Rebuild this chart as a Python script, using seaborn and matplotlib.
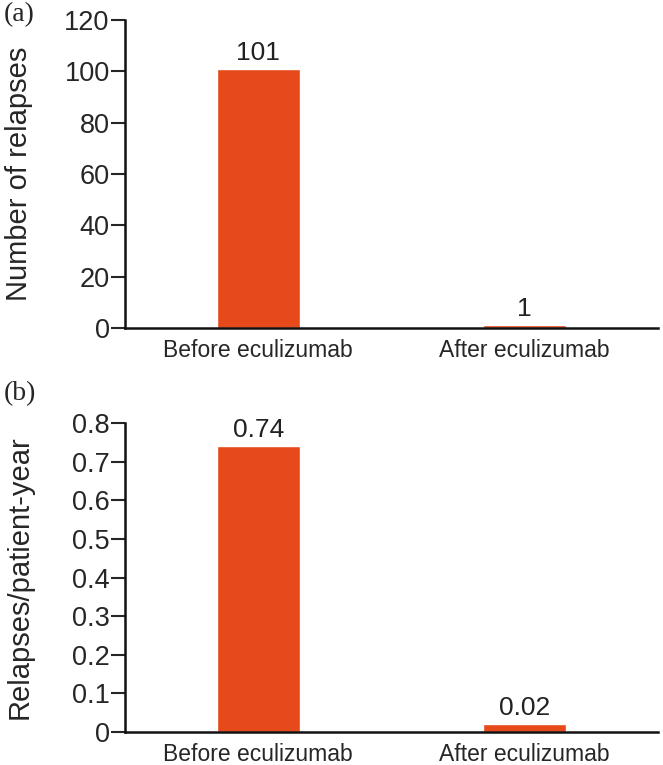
import matplotlib
matplotlib.use("Agg")
import matplotlib.pyplot as plt
import pandas as pd
import seaborn as sns

periods = ["Before eculizumab", "After eculizumab"]
relapse_counts = [101, 1]
relapse_rates = [0.74, 0.02]
count_labels = ["101", "1"]
rate_labels = ["0.74", "0.02"]

BAR_COLOR = "#E64A1B"

sns.set_theme(style="ticks")
plt.rcParams["font.family"] = ["Liberation Sans", "DejaVu Sans"]

fig = plt.figure(figsize=(6.63, 7.65), dpi=100)
ax_a = fig.add_axes([0.1885, 0.5712, 0.804, 0.4028])
ax_b = fig.add_axes([0.1885, 0.0431, 0.804, 0.4039])

panels = [
    (ax_a, relapse_counts, count_labels, "Number of relapses", (0, 120), range(0, 121, 20), "(a)", 0.981),
    (ax_b, relapse_rates, rate_labels, "Relapses/patient-year", (0, 0.8),
     [0, 0.1, 0.2, 0.3, 0.4, 0.5, 0.6, 0.7, 0.8], "(b)", 0.486),
]

for ax, values, labels, ylabel, ylim, yticks, tag, tag_y in panels:
    df = pd.DataFrame({"period": periods, "value": values})
    sns.barplot(data=df, x="period", y="value", color=BAR_COLOR, width=0.31,
                saturation=1, ax=ax)
    ax.set_xlim(-0.5, 1.5)
    ax.set_ylim(*ylim)
    ax.set_yticks(list(yticks))
    ax.set_yticklabels(["0" if t == 0 else (f"{t:g}") for t in yticks])
    ax.set_xlabel("")
    ax.set_ylabel(ylabel, fontsize=21)
    ax.yaxis.set_label_coords(-0.172, 0.5)
    ax.tick_params(axis="y", labelsize=19.5, length=10, width=1.5, direction="out", pad=1)
    ax.tick_params(axis="x", labelsize=16.5, length=0, pad=8)
    sns.despine(ax=ax)
    for side in ["left", "bottom"]:
        ax.spines[side].set_linewidth(1.8)
        ax.spines[side].set_color("#111111")
    for container in ax.containers:
        ax.bar_label(container, labels=labels, padding=3, fontsize=19, color="#222222")
    fig.text(0.005, tag_y, tag, fontsize=20, family="Liberation Serif", va="center", ha="left")

fig.savefig("out.png", dpi=100)
